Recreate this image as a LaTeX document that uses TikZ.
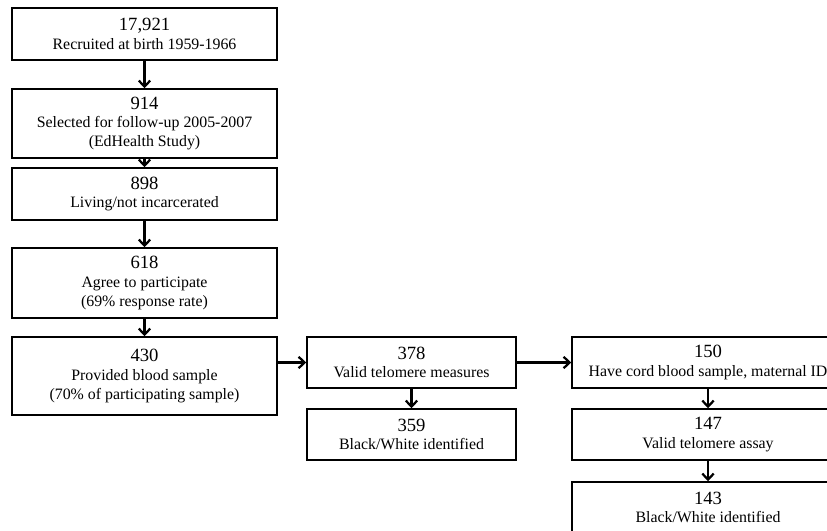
\documentclass[tikz,border=0pt]{standalone}
\usepackage{fontspec}
\setmainfont{Liberation Serif}
\usetikzlibrary{arrows.meta}
\begin{document}
\begin{tikzpicture}[x=0.75pt,y=-0.75pt,
  box/.style={draw, line width=1.1pt, inner sep=0pt, align=center,
    font=\fontsize{11.9}{14}\selectfont},
  lbox/.style={box, minimum width=198.75pt},
  mbox/.style={box, minimum width=156.75pt, minimum height=38.25pt},
  rbox/.style={box, minimum width=204pt, minimum height=38.25pt},
  arr/.style={-{Straight Barb[length=4.5pt,width=8.5pt,line width=1.7pt]}, line width=1.7pt}]
\newcommand{\num}[1]{{\fontsize{14}{16}\selectfont #1}}
\useasboundingbox (0,0) rectangle (827,531);
\clip (0,0) rectangle (827,531);
\fill[white] (0,0) rectangle (827,531);
\node[lbox, minimum height=39pt] (b1) at (144.5,34) {\num{17,921}\\Recruited at birth 1959-1966};
\node[lbox, minimum height=51.75pt] (b2) at (144.5,123.5) {\num{914}\\Selected for follow-up 2005-2007\\(EdHealth Study)};
\node[lbox, minimum height=39pt] (b3) at (144.5,194) {\num{898}\\Living/not incarcerated};
\node[lbox, minimum height=52.5pt] (b4) at (144.5,283) {\num{618}\\Agree to participate\\(69\% response rate)};
\node[lbox, minimum height=58.5pt] (b5) at (144.5,376) {\num{430}\\Provided blood sample\\(70\% of participating sample)};
\node[mbox] (m1) at (411.5,362.5) {\num{378}\\Valid telomere measures};
\node[mbox] (m2) at (411.5,434.5) {\num{359}\\Black/White identified};
\node[rbox] (r1) at (708,362.5) {\num{150}\\Have cord blood sample, maternal ID};
\node[rbox] (r2) at (708,434.5) {\num{147}\\Valid telomere assay};
\node[rbox] (r3) at (708,507.5) {\num{143}\\Black/White identified};
\draw[arr] (b1.south) -- (b2.north);
\draw[arr] (b2.south) -- (b3.north);
\draw[arr] (b3.south) -- (b4.north);
\draw[arr] (b4.south) -- (b5.north);
\draw[arr] (b5.east |- m1) -- (m1.west);
\draw[arr] (m1.south) -- (m2.north);
\draw[arr] (m1.east) -- (r1.west);
\draw[arr] (r1.south) -- (r2.north);
\draw[arr] (r2.south) -- (r3.north);
\end{tikzpicture}
\end{document}
